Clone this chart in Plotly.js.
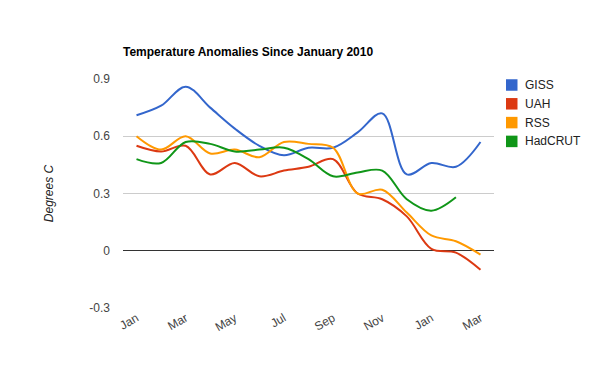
<!DOCTYPE html>
<html><head><meta charset="utf-8">
<script src="https://cdn.plot.ly/plotly-3.0.1.min.js"></script>
<style>html,body{margin:0;padding:0;background:#fff}#c{width:600px;height:371px}</style>
</head><body><div id="c"></div>
<script>
const months = ['Jan','Feb','Mar','Apr','May','Jun','Jul','Aug','Sep','Oct','Nov','Dec','Jan','Feb','Mar'];
const seriesNames = ['GISS','UAH','RSS','HadCRUT'];
const seriesColors = ['#3366cc','#dc3912','#ff9900','#109618'];
const giss    = [0.71,0.76,0.86,0.75,0.64,0.55,0.50,0.54,0.54,0.62,0.72,0.40,0.46,0.44,0.57];
const uah     = [0.55,0.52,0.55,0.40,0.46,0.39,0.42,0.44,0.48,0.30,0.27,0.18,0.01,-0.01,-0.10];
const rss     = [0.60,0.53,0.60,0.51,0.53,0.49,0.57,0.56,0.54,0.30,0.32,0.20,0.08,0.05,-0.02];
const hadcrut = [0.48,0.46,0.57,0.56,0.52,0.53,0.54,0.48,0.39,0.41,0.42,0.27,0.21,0.28];
const yTicks = [-0.3,0,0.3,0.6,0.9];

const allSeries = [giss, uah, rss, hadcrut];
const FONT = 'Arial, "Liberation Sans", sans-serif';
const xIdx = months.map((m,i)=>i);

const traces = allSeries.map((s,k)=>({
  x: s.map((v,i)=>i), y: s, type:'scatter', mode:'lines', name: seriesNames[k],
  line:{color: seriesColors[k], width:2, shape:'spline', smoothing:1},
  hoverinfo:'skip', showlegend:false
}));

const shapes = [];
const annotations = [];
seriesNames.forEach((n,k)=>{
  const yc = 85 + k*18.8;
  shapes.push({type:'rect', xref:'paper', yref:'paper',
    x0:(506-123)/371, x1:(517.5-123)/371,
    y0:(308-(yc+5.75))/229, y1:(308-(yc-5.75))/229,
    fillcolor: seriesColors[k], line:{width:0}});
  annotations.push({xref:'paper', yref:'paper', x:(523-123)/371, y:(308-yc)/229,
    xanchor:'left', yanchor:'middle', text:n, showarrow:false,
    font:{family:FONT, size:12, color:'#222'}});
});

const layout = {
  width:600, height:371,
  margin:{l:123, r:106, t:79, b:63},
  paper_bgcolor:'#fff', plot_bgcolor:'#fff',
  title:{text:'<b>Temperature Anomalies Since January 2010</b>', x:123/600, xanchor:'left',
    y:1-52/371, yanchor:'middle', font:{family:FONT, size:12, color:'#000'}},
  xaxis:{range:[-0.55,14.55], tickvals: xIdx.filter(i=>i%2===0),
    ticktext: xIdx.filter(i=>i%2===0).map(i=>months[i]),
    tickangle:-30, showgrid:false, zeroline:false, showline:false, ticks:'',
    tickfont:{family:FONT, size:12, color:'#444'}, fixedrange:true},
  yaxis:{range:[-0.3,0.9], tickvals:yTicks, ticktext:yTicks.map(v=>String(v)),
    showgrid:true, gridcolor:'#cccccc', gridwidth:1, zeroline:true, zerolinecolor:'#333', zerolinewidth:1,
    showline:false, ticks:'', ticklabelstandoff:12,
    tickfont:{family:FONT, size:12, color:'#444'},
    title:{text:'<i>Degrees C</i>', standoff:33, font:{family:FONT, size:12, color:'#222'}}},
  shapes, annotations
};
Plotly.newPlot('c', traces, layout, {displayModeBar:false, staticPlot:true});
</script></body></html>
